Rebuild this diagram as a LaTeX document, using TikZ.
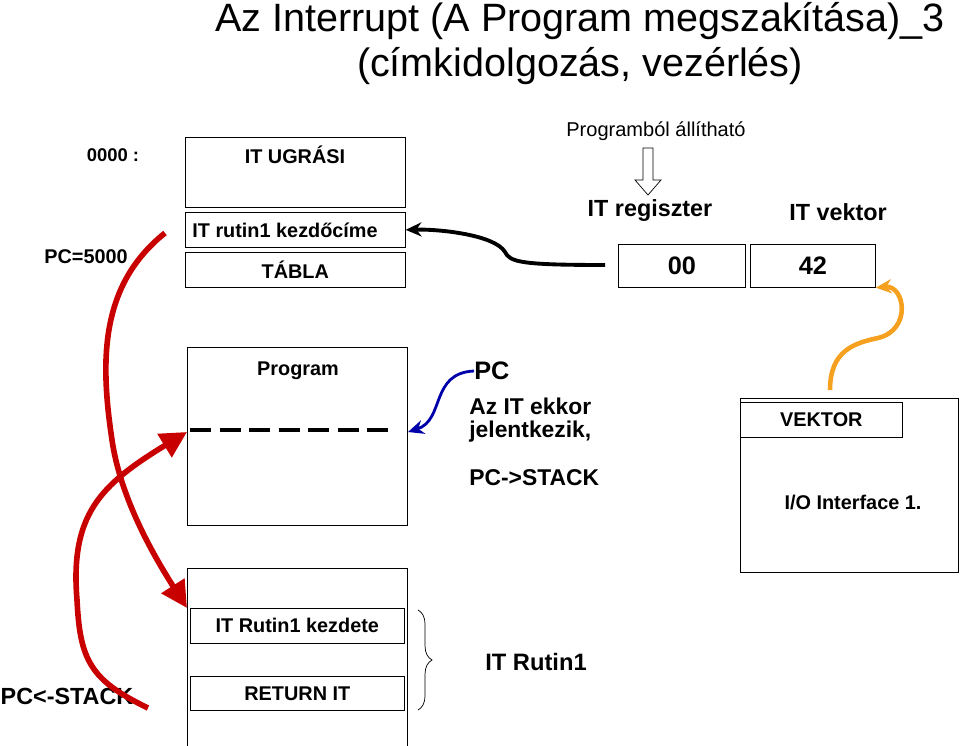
\documentclass[tikz,border=0pt]{standalone}
\usepackage{fontspec}
\setmainfont{Liberation Sans}
\usetikzlibrary{arrows.meta,decorations.pathreplacing}
\begin{document}
\begin{tikzpicture}
          [x=0.02cm,y=-0.02cm,
          box/.style={draw=black,minimum width=4.4cm,inner sep=0pt,font=\bfseries\fontsize{11.3}{13}\selectfont},
          lbl/.style={font=\bfseries\fontsize{11.3}{13}\selectfont,inner sep=0pt},
          red arc/.style={draw={rgb,255:red,200;green,0;blue,0},line width=3.2pt,-{Triangle[length=15pt,width=15pt]}},
          arc/.style={line width=2.2pt,-{Stealth[length=9pt,width=8pt]}}]

            \useasboundingbox (0,0) rectangle (960,746);
            % title
            \node at (580,21) {\fontsize{22.5}{26}\selectfont Az Interrupt (A Program megszakítása)\_3};
            \node at (580,66) {\fontsize{22.5}{26}\selectfont (címkidolgozás, vezérlés)};

            % memory table
            \node (ugr) [box,minimum height=1.4cm,anchor=north west] at (185,137) {};
            \node [lbl] at (295,155) {IT UGRÁSI};
            \node (kezd) [box,minimum height=0.7cm,anchor=north west] at (185,212) {};
            \node [lbl,anchor=west] at (192,230) {IT rutin1 kezdőcíme};
            \node (tabla) [box,minimum height=0.7cm,anchor=north west] at (185,252) {TÁBLA};
            \node [lbl,font=\bfseries\fontsize{10.5}{12}\selectfont] at (113,155) {0000 :};
            \node [lbl] at (86,257) {PC=5000};

            % register
            \node [font=\fontsize{11.4}{13}\selectfont,inner sep=0pt] at (656,131) {Programból állítható};
            \draw (643,148) -- (653,148) -- (653,180) -- (661,180) -- (648,195)
                  -- (635,180) -- (643,180) -- cycle;
            \node [lbl,font=\bfseries\fontsize{13.3}{15}\selectfont] at (650,211) {IT regiszter};
            \node [lbl,font=\bfseries\fontsize{13.3}{15}\selectfont] at (838,212) {IT vektor};
            \node (reg) [box,font=\bfseries\Large,minimum width=2.54cm,minimum height=0.86cm,anchor=north west] at (618,244) {00};
            \node (vek) [box,font=\bfseries\Large,minimum width=2.5cm,minimum height=0.86cm,anchor=north west] at (750,244) {42};
            \coordinate (regin) at (605,265);

            % program
            \node (prog) [box,minimum height=3.56cm,anchor=north west] at (187,347) {};
            \node [lbl] at (298,371) {Program};
            \draw [line width=2.2pt,dash pattern=on 12pt off 4.8pt] (190,430) -- (390,430);
            \coordinate (hit) at (408,432);
            \node (pc) [lbl,font=\bfseries\Large,anchor=west] at (474,371) {PC};
            \node [lbl,anchor=west,align=left,font=\bfseries\fontsize{13}{13}\selectfont] at (469,420) {Az IT ekkor\\[0pt]jelentkezik,};
            \node [lbl,anchor=west,font=\bfseries\fontsize{13}{15}\selectfont] at (469,478) {PC->STACK};

            % interface
            \node (io) [box,minimum width=4.36cm,minimum height=3.48cm,anchor=north west] at (740,398) {};
            \node (vektor) [box,minimum width=3.24cm,minimum height=0.7cm,anchor=north west] at (740,402) {VEKTOR};
            \node [lbl] at (853,503) {I/O Interface 1.};
            \coordinate (ioout) at (830,390);

            % routine
            \node (rut) [box,minimum height=3.6cm,anchor=north west] at (187,568) {};
            \node (rk) [box,minimum width=4.28cm,minimum height=0.7cm,anchor=north west] at (190,608) {IT Rutin1 kezdete};
            \node (ret) [box,minimum width=4.28cm,minimum height=0.68cm,anchor=north west] at (190,676) {RETURN IT};
            \draw [decorate,decoration={brace,amplitude=8pt}] (418,610) -- (418,710);
            \node [lbl,font=\bfseries\fontsize{13.5}{15}\selectfont] at (536,662) {IT Rutin1};
            \node [lbl,font=\bfseries\fontsize{13.3}{15}\selectfont] at (67,696) {PC<-STACK};
            \coordinate (pcs) at (165,233);
            \coordinate (stk) at (148,708);

            % connectors
            \draw [arc] (regin) .. controls (520,265) and (510,262) .. (505,252)
                  .. controls (495,235) and (440,229) .. (kezd.east);
            \draw [arc,draw={rgb,255:red,245;green,160;blue,30},line width=2.6pt] (ioout) .. controls (830,350) and (855,343) .. (878,338)
                  .. controls (912,330) and (905,285) .. (vek.south east);
            \draw [arc,draw={rgb,255:red,0;green,0;blue,170},line width=1.6pt] (pc.west) .. controls (430,373) and (445,420) .. (hit);
            \draw [red arc] (pcs) .. controls (100,285) and (100,360) .. (112,440)
                  .. controls (120,495) and (150,550) .. (rut.west |- rk.north);
            \draw [red arc] (stk) .. controls (90,680) and (80,660) .. (77,600)
                  .. controls (70,515) and (100,485) .. (prog.west |- hit);
        \end{tikzpicture}
\end{document}
